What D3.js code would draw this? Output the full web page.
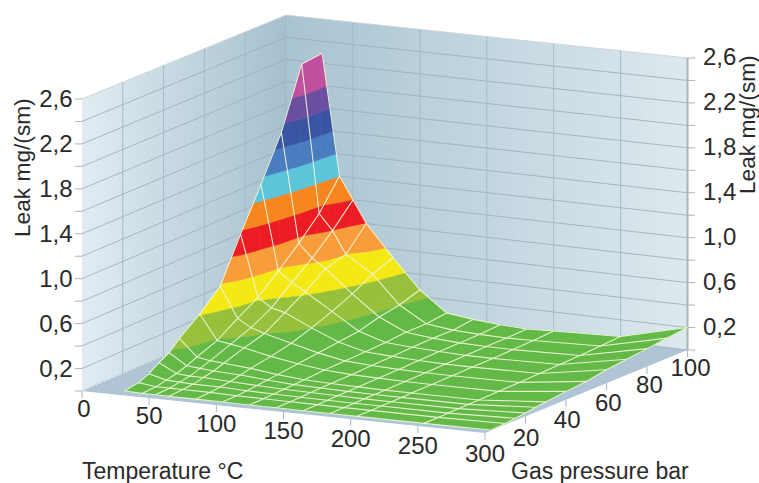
<!DOCTYPE html>
<html>
<head>
<meta charset="utf-8">
<script src="https://cdn.jsdelivr.net/npm/d3@7"></script>
<style>
  html, body { margin: 0; padding: 0; background: #fff; }
  svg { display: block; }
  text { font-family: "Liberation Sans", Arial, sans-serif; fill: #2a2a2a; }
</style>
</head>
<body>
<div id="chart"></div>
<script>
var width = 759,
    height = 483;

// surface nodes
var temps = [27, 40, 50, 60, 80, 100, 120, 140, 160, 180, 200, 250, 300];
var pressures = [100, 90, 80, 70, 60, 50, 40, 30, 25, 20, 15, 10, 3];

var leak100 = [2.29, 1.20, 1.00, 0.80, 0.52, 0.26, 0.08, 0.05, 0.03, 0.02, 0.03, 0.05, 0.20];
var leak90 = [2.27, 0.94, 0.80, 0.60, 0.45, 0.20, 0.06, 0.03, 0.02, 0.015, 0.02, 0.04, 0.18];
var leak80 = [1.73, 0.75, 0.63, 0.55, 0.35, 0.17, 0.06, 0.035, 0.02, 0.015, 0.015, 0.03, 0.16];
var leak70 = [1.34, 0.58, 0.49, 0.42, 0.27, 0.12, 0.045, 0.03, 0.02, 0.012, 0.012, 0.025, 0.14];
var leak60 = [0.97, 0.42, 0.34, 0.31, 0.20, 0.10, 0.04, 0.025, 0.015, 0.01, 0.01, 0.02, 0.12];
var leak50 = [0.58, 0.31, 0.24, 0.20, 0.14, 0.08, 0.035, 0.02, 0.012, 0.008, 0.008, 0.015, 0.09];
var leak40 = [0.41, 0.19, 0.17, 0.15, 0.10, 0.06, 0.03, 0.015, 0.01, 0.006, 0.006, 0.01, 0.075];
var leak30 = [0.27, 0.12, 0.10, 0.09, 0.07, 0.04, 0.02, 0.012, 0.008, 0.005, 0.005, 0.008, 0.055];
var leak25 = [0.18, 0.08, 0.07, 0.06, 0.05, 0.03, 0.015, 0.01, 0.006, 0.004, 0.004, 0.006, 0.045];
var leak20 = [0.13, 0.05, 0.04, 0.04, 0.03, 0.02, 0.012, 0.008, 0.005, 0.003, 0.003, 0.005, 0.03];
var leak15 = [0.07, 0.03, 0.025, 0.02, 0.02, 0.012, 0.008, 0.005, 0.003, 0.002, 0.002, 0.003, 0.02];
var leak10 = [0.03, 0.01, 0.01, 0.01, 0.01, 0.006, 0.004, 0.003, 0.002, 0.001, 0.001, 0.002, 0.01];
var leak3 = [0.01, 0.005, 0.005, 0.004, 0.004, 0.003, 0.002, 0.002, 0.001, 0.001, 0.001, 0.001, 0.005];
var leakRows = [leak100, leak90, leak80, leak70, leak60, leak50, leak40, leak30, leak25, leak20, leak15, leak10, leak3];

var bandEdges = [0, 0.2, 0.4, 0.6, 0.8, 1.0, 1.2, 1.4, 1.6, 1.8, 2.0, 2.6];
var bandColors = ["#63b946", "#97c13a", "#f5e914", "#f99d3b", "#ed1c24", "#f7861e",
                  "#5dc5da", "#4a7cc0", "#3a54a4", "#6a4fa0", "#c04f9f"];

var tempTicks = [0, 50, 100, 150, 200, 250, 300];
var pressureTicks = [20, 40, 60, 80, 100];
var leakGrid = [0, 0.2, 0.4, 0.6, 0.8, 1.0, 1.2, 1.4, 1.6, 1.8, 2.0, 2.2, 2.4, 2.6];
var leakTicks = [0.2, 0.6, 1.0, 1.4, 1.8, 2.2, 2.6];

var tScale = d3.scaleLinear().domain([0, 300]).range([0, 1]),
    pScale = d3.scaleLinear().domain([0, 100]).range([0, 1]),
    zScale = d3.scaleLinear().domain([0, 2.6]).range([0, 292]);

var commaFormat = function(d) { return d3.format(".1f")(d).replace(".", ","); };

// floor corners, the box is close to an affine projection
function project(t, p, z) {
  var u = tScale(t), v = pScale(p);
  var x = 82 * (1 - u) * (1 - v) + 485 * u * (1 - v) + 286 * (1 - u) * v + 687.5 * u * v,
      y = 391 * (1 - u) * (1 - v) + 433 * u * (1 - v) + 303 * (1 - u) * v + 350 * u * v;
  var shrink = 1 - 0.014 * (1 - u) * v;
  return [x, y - zScale(z) * shrink];
}

var line = d3.line();

var svg = d3.select("#chart").append("svg")
    .attr("width", width)
    .attr("height", height);

var defs = svg.append("defs");
var leftGrad = defs.append("linearGradient").attr("id", "wallLeft");
leftGrad.append("stop").attr("offset", "0%").attr("stop-color", "#e1ecf2");
leftGrad.append("stop").attr("offset", "100%").attr("stop-color", "#a5c0cf");
var rightGrad = defs.append("linearGradient").attr("id", "wallRight");
rightGrad.append("stop").attr("offset", "0%").attr("stop-color", "#a8c3d2");
rightGrad.append("stop").attr("offset", "100%").attr("stop-color", "#dde9ee");

// walls and floor
svg.append("path")
    .attr("d", line([project(0, 0, 0), project(0, 100, 0), project(0, 100, 2.6), project(0, 0, 2.6)]) + "Z")
    .attr("fill", "url(#wallLeft)");
svg.append("path")
    .attr("d", line([project(0, 100, 0), project(300, 100, 0), project(300, 100, 2.6), project(0, 100, 2.6)]) + "Z")
    .attr("fill", "url(#wallRight)");
svg.append("path")
    .attr("d", line([project(0, 0, 0), project(300, 0, 0), project(300, 100, 0), project(0, 100, 0)]) + "Z")
    .attr("fill", "#afc4d5");

// wall grid
leakGrid.forEach(function(z) {
  svg.append("path")
      .attr("d", line([project(0, 0, z), project(0, 100, z), project(300, 100, z)]))
      .attr("fill", "none")
      .attr("stroke", z == 2.6 ? "#ced6db" : "#9aabb6")
      .attr("stroke-width", z == 2.6 ? 1 : 0.8);
});
[20, 40, 60, 80, 100].forEach(function(p) {
  svg.append("path")
      .attr("d", line([project(0, p, 0), project(0, p, 2.6)]))
      .attr("fill", "none").attr("stroke", "#9fb8c8").attr("stroke-width", 0.9);
});
[50, 100, 150, 200, 250].forEach(function(t) {
  svg.append("path")
      .attr("d", line([project(t, 100, 0), project(t, 100, 2.6)]))
      .attr("fill", "none").attr("stroke", "#9fb8c8").attr("stroke-width", 0.9);
});
svg.append("path")
    .attr("d", line([project(0, 0, 0), project(0, 100, 0)]))
    .attr("fill", "none").attr("stroke", "#fff").attr("stroke-width", 1).attr("stroke-dasharray", "1.5,1.5");

// axis lines and ticks
var tickColor = "#a9b4bc";
svg.append("path")
    .attr("d", line([project(300, 100, 0), project(300, 100, 2.6)]))
    .attr("stroke", tickColor).attr("stroke-width", 2).attr("fill", "none");
leakGrid.forEach(function(z) {
  var a = project(0, 0, z), b = project(300, 100, z);
  svg.append("path").attr("d", line([[a[0] - 7, a[1]], a]))
      .attr("stroke", tickColor).attr("fill", "none");
  svg.append("path").attr("d", line([b, [b[0] + 7.5, b[1]]]))
      .attr("stroke", tickColor).attr("fill", "none");
});
tempTicks.forEach(function(t) {
  var a = project(t, 0, 0);
  svg.append("path").attr("d", line([a, [a[0], a[1] + 7]]))
      .attr("stroke", tickColor).attr("fill", "none");
});
pressureTicks.forEach(function(p) {
  var a = project(300, p, 0);
  svg.append("path").attr("d", line([a, [a[0], a[1] + 7]]))
      .attr("stroke", tickColor).attr("fill", "none");
});

// cut a triangle down to one leak band
function clipBelow(poly, level, keepBelow) {
  var out = [];
  poly.forEach(function(a, i) {
    var b = poly[(i + 1) % poly.length],
        da = keepBelow ? level - a[2] : a[2] - level,
        db = keepBelow ? level - b[2] : b[2] - level;
    if (da >= 0) out.push(a);
    if ((da > 0 && db < 0) || (da < 0 && db > 0)) {
      var f = da / (da - db);
      out.push([a[0] + f * (b[0] - a[0]), a[1] + f * (b[1] - a[1]), a[2] + f * (b[2] - a[2])]);
    }
  });
  return out;
}

var surface = svg.append("g");

function drawTriangle(tri) {
  bandColors.forEach(function(color, k) {
    var poly = clipBelow(clipBelow(tri, bandEdges[k], false), bandEdges[k + 1], true);
    if (poly.length < 3) return;
    surface.append("path")
        .attr("d", line(poly.map(function(n) { return project(n[0], n[1], n[2]); })) + "Z")
        .attr("fill", color)
        .attr("stroke", color)
        .attr("stroke-width", 0.5);
  });
}

// back to front, so nearer cells paint over farther ones
pressures.slice(0, -1).forEach(function(p, r) {
  temps.slice(0, -1).forEach(function(t, c) {
    var a = [t, p, leakRows[r][c]],
        b = [temps[c + 1], p, leakRows[r][c + 1]],
        d = [t, pressures[r + 1], leakRows[r + 1][c]],
        e = [temps[c + 1], pressures[r + 1], leakRows[r + 1][c + 1]];
    var mid = [(a[0] + e[0]) / 2, (a[1] + e[1]) / 2, (a[2] + b[2] + d[2] + e[2]) / 4];
    drawTriangle([a, b, mid]);
    drawTriangle([a, mid, d]);
    drawTriangle([b, e, mid]);
    drawTriangle([d, mid, e]);
  });
});

// mesh lines
var meshColor = "#f1f7d8";
pressures.forEach(function(p, r) {
  surface.append("path")
      .attr("d", line(temps.map(function(t, c) { return project(t, p, leakRows[r][c]); })))
      .attr("fill", "none").attr("stroke", meshColor).attr("stroke-width", 1.1).attr("stroke-opacity", 0.9);
});
temps.forEach(function(t, c) {
  surface.append("path")
      .attr("d", line(pressures.map(function(p, r) { return project(t, p, leakRows[r][c]); })))
      .attr("fill", "none").attr("stroke", meshColor).attr("stroke-width", 1.1).attr("stroke-opacity", 0.9);
});

// labels
var fontSize = 24;
leakTicks.forEach(function(z) {
  var a = project(0, 0, z), b = project(300, 100, z);
  svg.append("text").attr("x", 72.5).attr("y", a[1] + 8)
      .attr("text-anchor", "end").attr("font-size", fontSize).text(commaFormat(z));
  svg.append("text").attr("x", 703).attr("y", b[1] + 7)
      .attr("font-size", fontSize).text(commaFormat(z));
});
tempTicks.forEach(function(t) {
  var a = project(t, 0, 0);
  svg.append("text").attr("x", a[0] + (t == 0 ? 2 : 0)).attr("y", a[1] + 25.5 + 3 * tScale(t))
      .attr("text-anchor", "middle").attr("font-size", fontSize).text(t);
});
pressureTicks.forEach(function(p) {
  var a = project(300, p, 0);
  svg.append("text").attr("x", a[0] + 3 * pScale(p)).attr("y", a[1] + 30 - 4.5 * pScale(p))
      .attr("text-anchor", "middle").attr("font-size", fontSize).text(p);
});

svg.append("text").attr("x", 82).attr("y", 479).attr("font-size", 23).text("Temperature °C");
svg.append("text").attr("x", 511).attr("y", 479).attr("font-size", 23).text("Gas pressure bar");
svg.append("text").attr("transform", "translate(29.5,237) rotate(-90)")
    .attr("font-size", 22.7).text("Leak mg/(sm)");
svg.append("text").attr("transform", "translate(755,194) rotate(-90)")
    .attr("font-size", 22.7).text("Leak mg/(sm)");
</script>
</body>
</html>
